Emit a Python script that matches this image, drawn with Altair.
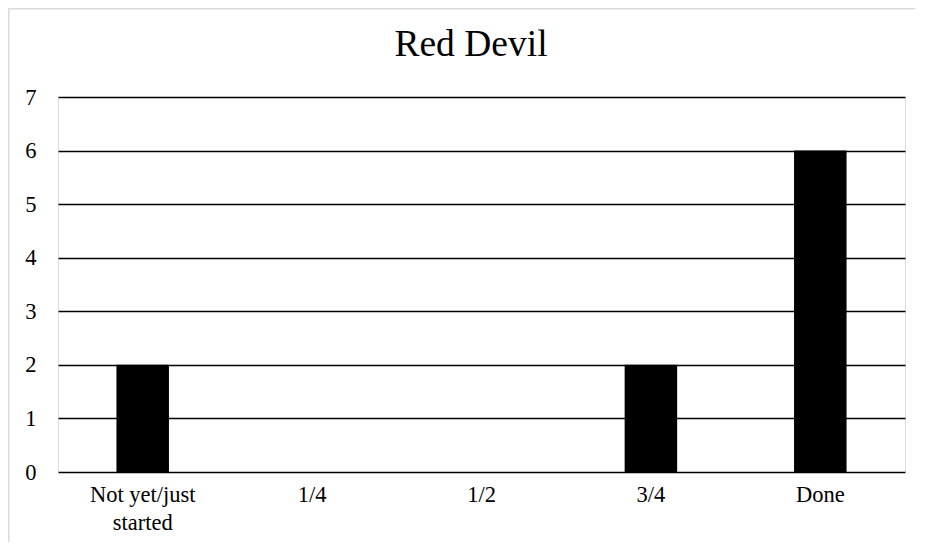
import altair as alt
import pandas as pd

categories = ["Not yet/just started", "1/4", "1/2", "3/4", "Done"]
counts = [2, 0, 0, 2, 6]
title_text = "Red Devil"
y_ticks = [0, 1, 2, 3, 4, 5, 6, 7]

df = pd.DataFrame({"cat": categories, "count": counts})
FONT = "Liberation Serif"

bars = alt.Chart(df).mark_bar(color="black").encode(
    x=alt.X(
        "cat:N",
        sort=categories,
        title=None,
        scale=alt.Scale(paddingInner=0.69, paddingOuter=0.345),
        axis=alt.Axis(
            labelAngle=0,
            labelFont=FONT,
            labelFontSize=22.5,
            labelColor="black",
            labelPadding=11,
            labelLineHeight=28,
            ticks=False,
            domain=False,
            grid=False,
            labelExpr="datum.value == 'Not yet/just started' ? ['Not yet/just', 'started'] : datum.value",
        ),
    ),
    y=alt.Y(
        "count:Q",
        title=None,
        scale=alt.Scale(domain=[0, 7], nice=False),
        axis=alt.Axis(
            values=y_ticks,
            labelFont=FONT,
            labelFontSize=22.5,
            labelColor="black",
            labelPadding=22,
            ticks=False,
            domain=False,
            grid=True,
            gridColor="black",
            gridWidth=1.6,
            gridOpacity=1,
        ),
    ),
)

title_df = pd.DataFrame({"t": [title_text]})
title = alt.Chart(title_df).mark_text(
    font=FONT, fontSize=37.5, color="black", align="center", baseline="alphabetic"
).encode(text="t:N", x=alt.value(413), y=alt.value(-41))

top_border = alt.Chart(title_df).mark_rule(color="#d9d9d9", strokeWidth=1.5).encode(
    x=alt.value(-50), x2=alt.value(900), y=alt.value(-88.25)
)
left_border = alt.Chart(title_df).mark_rule(color="#d9d9d9", strokeWidth=1.5).encode(
    x=alt.value(-49.25), y=alt.value(-89), y2=alt.value(460)
)

chart = alt.layer(top_border, left_border, bars, title).properties(
    width=847,
    height=375,
    autosize=alt.AutoSizeParams(type="none"),
    padding={"left": 50, "top": 89, "right": 10, "bottom": 70},
).configure_view(stroke=None).configure(background="white")

chart.save("out.html", embed_options={"renderer": "svg", "actions": False})
